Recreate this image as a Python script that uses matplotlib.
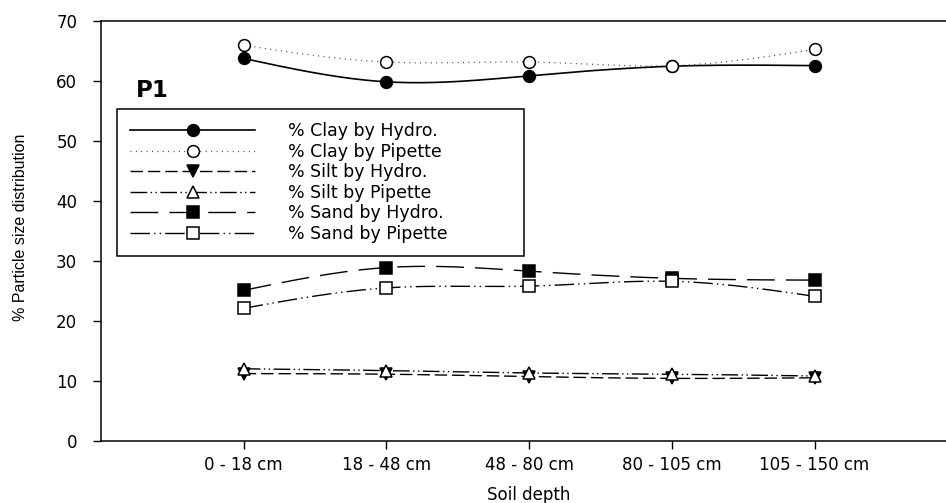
import numpy as np
import matplotlib
matplotlib.use("Agg")
import matplotlib.pyplot as plt

plt.rcParams['font.family'] = ['DejaVu Sans']

# Soil depth classes (x axis)
depths = ['0 - 18 cm', '18 - 48 cm', '48 - 80 cm', '80 - 105 cm', '105 - 150 cm']

# Particle size fractions (%) by method
clay_hydro = [63.8, 59.9, 60.9, 62.5, 62.6]
clay_pipette = [66.0, 63.2, 63.2, 62.6, 65.3]
silt_hydro = [11.2, 11.1, 10.7, 10.4, 10.5]
silt_pipette = [12.0, 11.7, 11.3, 11.1, 10.8]
sand_hydro = [25.1, 28.9, 28.3, 27.1, 26.8]
sand_pipette = [22.1, 25.5, 25.8, 26.6, 24.1]

y_ticks = [0, 10, 20, 30, 40, 50, 60, 70]
profile = 'P1'


def natural_spline(x, y, n=200):
    """Natural cubic spline through (x, y), evaluated on a dense grid."""
    x = np.asarray(x, float)
    y = np.asarray(y, float)
    k = len(x)
    h = np.diff(x)
    A = np.zeros((k, k))
    r = np.zeros(k)
    A[0, 0] = A[-1, -1] = 1.0
    for i in range(1, k - 1):
        A[i, i - 1] = h[i - 1]
        A[i, i] = 2 * (h[i - 1] + h[i])
        A[i, i + 1] = h[i]
        r[i] = 6 * ((y[i + 1] - y[i]) / h[i] - (y[i] - y[i - 1]) / h[i - 1])
    m = np.linalg.solve(A, r)
    xs = np.linspace(x[0], x[-1], n)
    idx = np.clip(np.searchsorted(x, xs) - 1, 0, k - 2)
    x0, x1 = x[idx], x[idx + 1]
    hh = x1 - x0
    t0, t1 = x1 - xs, xs - x0
    ys = (m[idx] * t0 ** 3 / (6 * hh) + m[idx + 1] * t1 ** 3 / (6 * hh)
          + (y[idx] / hh - m[idx] * hh / 6) * t0
          + (y[idx + 1] / hh - m[idx + 1] * hh / 6) * t1)
    return xs, ys


fig = plt.figure(figsize=(9.46, 5.03), dpi=100)
W, H = 946, 503
ax = fig.add_axes([101 / W, (H - 440.7) / H, 6 * 142.7 / W, (440.7 - 21.3) / H])

xpos = np.arange(1, len(depths) + 1)

series = [
    ('% Clay by Hydro.', clay_hydro, dict(linestyle='-', color='black', lw=1.2),
     dict(marker='o', mfc='black')),
    ('% Clay by Pipette', clay_pipette, dict(linestyle=(0, (0.8, 3.5)), color='#444444', lw=0.9),
     dict(marker='o', mfc='white')),
    ('% Silt by Hydro.', silt_hydro, dict(linestyle=(0, (9, 3.5)), color='black', lw=1.0),
     dict(marker='v', mfc='black')),
    ('% Silt by Pipette', silt_pipette, dict(linestyle=(0, (12, 2.5, 1, 2.5, 1, 2.5)), color='black', lw=1.0),
     dict(marker='^', mfc='white')),
    ('% Sand by Hydro.', sand_hydro, dict(linestyle=(0, (20, 8)), color='black', lw=1.0),
     dict(marker='s', mfc='black')),
    ('% Sand by Pipette', sand_pipette, dict(linestyle=(0, (14, 3, 1, 3, 1, 3)), color='black', lw=1.0),
     dict(marker='s', mfc='white')),
]

for i, (label, vals, lstyle, mstyle) in enumerate(series):
    xs, ys = natural_spline(xpos, vals)
    ax.plot(xs, ys, zorder=2 + i, **lstyle)
    ax.plot(xpos, vals, linestyle='none', marker=mstyle['marker'],
            markersize=8.5, mfc=mstyle['mfc'], mec='black', mew=1.1, zorder=10 + i)

# Legend proxies: line with a single marker in the middle
handles = []
for label, vals, lstyle, mstyle in series:
    h, = ax.plot([], [], marker=mstyle['marker'], markersize=8.5, mfc=mstyle['mfc'],
                 mec='black', mew=1.1, label=label, **lstyle)
    handles.append(h)

leg = fig.legend(handles=handles, loc='upper left',
                 bbox_to_anchor=(117 / W, 0.3, 407 / W, (H - 109) / H - 0.3),
                 bbox_transform=fig.transFigure, mode='expand', borderaxespad=0,
                 fontsize=12.5, numpoints=1, handlelength=7.2, handletextpad=1.9,
                 labelspacing=0.15, borderpad=0.75, fancybox=False, framealpha=1,
                 edgecolor='black')
leg.get_frame().set_linewidth(1.1)

ax.text(0.245, 57.4, profile, fontsize=16.5, fontweight='bold', ha='left', va='baseline')

ax.set_xlim(0, 6)
ax.set_ylim(0, 70)
ax.set_xticks(xpos)
ax.set_xticklabels(depths)
ax.set_yticks(y_ticks)
ax.tick_params(axis='both', direction='out', length=5.8, width=1.0, labelsize=12)
ax.tick_params(axis='y', pad=11.3)
ax.tick_params(axis='x', pad=5.5)

for side in ['left', 'top', 'bottom']:
    ax.spines[side].set_linewidth(1.1)
ax.spines['right'].set_visible(False)

ax.set_xlabel('Soil depth', fontsize=12)
ax.xaxis.set_label_coords(0.5, -0.108)
ax.set_ylabel('% Particle size distribution', fontsize=11.5,
              family=['Liberation Sans', 'DejaVu Sans'], va='center', ha='center')
ax.yaxis.set_label_coords((21 - 101) / (6 * 142.7), (440.7 - 227.5) / (440.7 - 21.3))

fig.savefig('out.png', dpi=100)
